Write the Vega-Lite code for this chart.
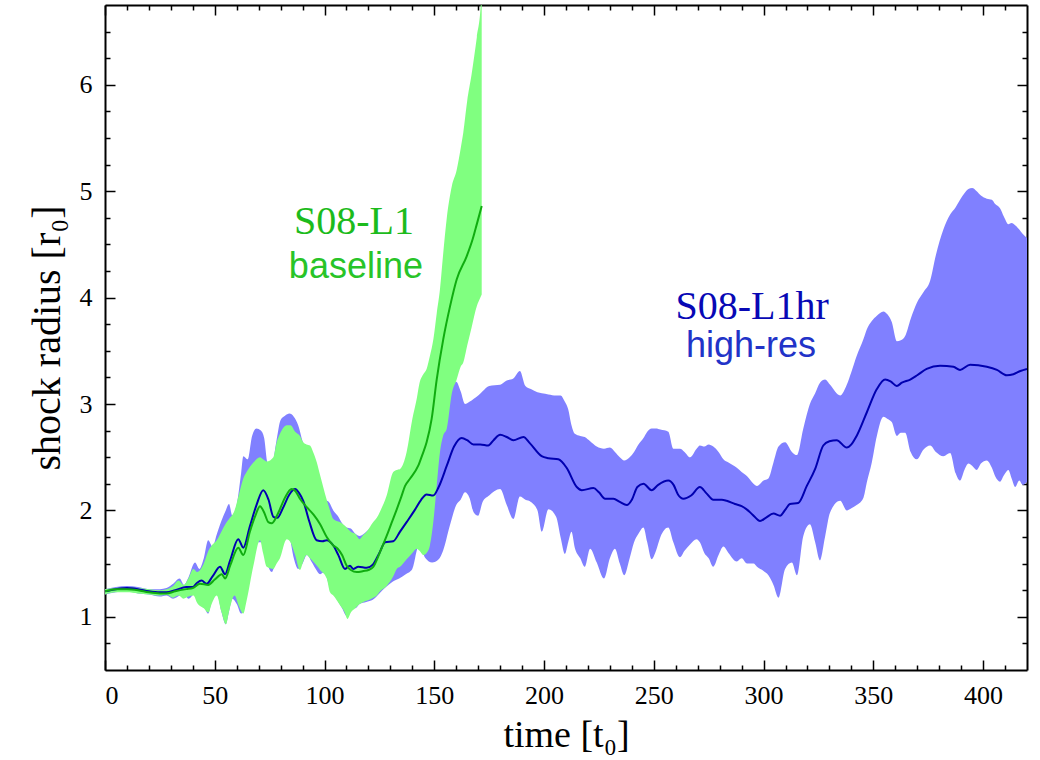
{
  "$schema": "https://vega.github.io/schema/vega-lite/v6.json",
  "width": 922,
  "height": 665,
  "autosize": "none",
  "padding": {"left": 105, "top": 5, "right": 13, "bottom": 90},
  "background": "white",
  "config": {
    "view": {"stroke": null},
    "axis": {
      "labelFont": "Liberation Serif",
      "titleFont": "Liberation Serif",
      "labelColor": "black",
      "titleColor": "black",
      "titleFontWeight": "normal",
      "tickColor": "black",
      "tickWidth": 1.5,
      "domainColor": "black",
      "domainWidth": 2,
      "grid": false,
      "zindex": 1
    }
  },
  "datasets": {
    "blueBand": [
      {"t":0,"lo":1.21,"hi":1.26},{"t":5,"lo":1.23,"hi":1.28},{"t":10,"lo":1.24,"hi":1.29},{"t":15,"lo":1.22,"hi":1.28},{"t":20,"lo":1.21,"hi":1.26},{"t":25,"lo":1.19,"hi":1.26},{"t":28,"lo":1.2,"hi":1.27},{"t":31,"lo":1.17,"hi":1.31},{"t":34,"lo":1.2,"hi":1.36},{"t":36,"lo":1.22,"hi":1.3},{"t":38,"lo":1.17,"hi":1.37},{"t":41,"lo":1.22,"hi":1.51},{"t":43,"lo":1.16,"hi":1.45},{"t":45,"lo":1.1,"hi":1.55},{"t":47,"lo":1.03,"hi":1.72},{"t":49,"lo":1.18,"hi":1.66},{"t":51,"lo":1.22,"hi":1.78},{"t":53,"lo":1.05,"hi":1.9},{"t":55,"lo":0.93,"hi":2.0},{"t":56.5,"lo":1.05,"hi":2.06},{"t":58,"lo":1.17,"hi":1.95},{"t":60,"lo":1.12,"hi":2.05},{"t":62,"lo":1.03,"hi":2.35},{"t":63,"lo":1.05,"hi":2.51},{"t":65,"lo":1.3,"hi":2.48},{"t":67,"lo":1.48,"hi":2.7},{"t":69,"lo":1.7,"hi":2.77},{"t":71,"lo":1.7,"hi":2.75},{"t":72.5,"lo":1.65,"hi":2.68},{"t":74,"lo":1.5,"hi":2.45},{"t":76,"lo":1.42,"hi":2.42},{"t":78,"lo":1.55,"hi":2.64},{"t":80,"lo":1.7,"hi":2.85},{"t":82,"lo":1.8,"hi":2.89},{"t":84,"lo":1.75,"hi":2.91},{"t":86,"lo":1.55,"hi":2.88},{"t":88,"lo":1.45,"hi":2.8},{"t":90,"lo":1.5,"hi":2.65},{"t":92,"lo":1.58,"hi":2.55},{"t":94,"lo":1.52,"hi":2.4},{"t":96,"lo":1.45,"hi":2.25},{"t":98,"lo":1.4,"hi":2.15},{"t":100,"lo":1.42,"hi":2.1},{"t":102,"lo":1.3,"hi":2.08},{"t":104,"lo":1.22,"hi":2.0},{"t":106,"lo":1.15,"hi":1.95},{"t":108,"lo":1.08,"hi":1.88},{"t":110,"lo":1.01,"hi":1.84},{"t":112,"lo":1.1,"hi":1.83},{"t":114,"lo":1.08,"hi":1.78},{"t":116,"lo":1.12,"hi":1.76},{"t":119,"lo":1.14,"hi":1.8},{"t":122,"lo":1.16,"hi":1.86},{"t":125,"lo":1.22,"hi":1.95},{"t":128,"lo":1.28,"hi":2.05},{"t":131,"lo":1.33,"hi":2.15},{"t":134,"lo":1.36,"hi":2.25},{"t":137,"lo":1.4,"hi":2.3},{"t":140,"lo":1.45,"hi":2.32},{"t":143,"lo":1.67,"hi":2.45},{"t":146,"lo":1.55,"hi":2.55},{"t":149,"lo":1.51,"hi":2.7},{"t":152,"lo":1.54,"hi":2.9},{"t":154,"lo":1.62,"hi":3.0},{"t":157,"lo":1.85,"hi":3.11},{"t":160,"lo":2.05,"hi":3.21},{"t":162,"lo":2.1,"hi":3.12},{"t":164,"lo":2.17,"hi":3.0},{"t":166,"lo":2.12,"hi":3.02},{"t":168,"lo":1.98,"hi":3.05},{"t":170,"lo":1.95,"hi":3.08},{"t":172,"lo":2.08,"hi":3.12},{"t":175,"lo":2.14,"hi":3.17},{"t":180,"lo":2.2,"hi":3.18},{"t":183,"lo":2.05,"hi":3.22},{"t":186,"lo":1.92,"hi":3.24},{"t":189,"lo":2.13,"hi":3.31},{"t":191.5,"lo":2.1,"hi":3.17},{"t":194,"lo":2.08,"hi":3.14},{"t":197,"lo":2.0,"hi":3.11},{"t":199,"lo":1.8,"hi":3.1},{"t":202,"lo":2.01,"hi":3.09},{"t":205.5,"lo":1.94,"hi":3.08},{"t":207.5,"lo":1.75,"hi":3.08},{"t":209.5,"lo":1.59,"hi":3.02},{"t":211,"lo":1.7,"hi":2.95},{"t":212.5,"lo":1.8,"hi":2.8},{"t":214,"lo":1.65,"hi":2.72},{"t":216.5,"lo":1.55,"hi":2.7},{"t":218.5,"lo":1.47,"hi":2.69},{"t":221,"lo":1.64,"hi":2.65},{"t":224,"lo":1.51,"hi":2.6},{"t":227.3,"lo":1.36,"hi":2.58},{"t":230,"lo":1.55,"hi":2.59},{"t":232.3,"lo":1.64,"hi":2.55},{"t":234.5,"lo":1.5,"hi":2.5},{"t":236.5,"lo":1.39,"hi":2.47},{"t":239,"lo":1.55,"hi":2.5},{"t":241,"lo":1.7,"hi":2.55},{"t":243,"lo":1.78,"hi":2.62},{"t":245.3,"lo":1.84,"hi":2.68},{"t":247,"lo":1.7,"hi":2.74},{"t":249,"lo":1.54,"hi":2.77},{"t":251,"lo":1.62,"hi":2.77},{"t":253,"lo":1.75,"hi":2.76},{"t":256.6,"lo":1.84,"hi":2.74},{"t":258.9,"lo":1.7,"hi":2.58},{"t":261.9,"lo":1.56,"hi":2.58},{"t":264,"lo":1.62,"hi":2.55},{"t":266.5,"lo":1.68,"hi":2.5},{"t":269.5,"lo":1.73,"hi":2.58},{"t":271,"lo":1.7,"hi":2.61},{"t":273,"lo":1.6,"hi":2.6},{"t":275,"lo":1.55,"hi":2.62},{"t":277.1,"lo":1.47,"hi":2.6},{"t":279.5,"lo":1.58,"hi":2.55},{"t":281.7,"lo":1.66,"hi":2.48},{"t":284,"lo":1.6,"hi":2.45},{"t":287.8,"lo":1.52,"hi":2.4},{"t":290,"lo":1.55,"hi":2.36},{"t":292.5,"lo":1.5,"hi":2.32},{"t":295.4,"lo":1.5,"hi":2.25},{"t":297,"lo":1.47,"hi":2.23},{"t":300,"lo":1.43,"hi":2.28},{"t":302.2,"lo":1.39,"hi":2.3},{"t":304.5,"lo":1.3,"hi":2.45},{"t":306.8,"lo":1.18,"hi":2.6},{"t":309.8,"lo":1.45,"hi":2.64},{"t":312.9,"lo":1.51,"hi":2.55},{"t":315.2,"lo":1.39,"hi":2.52},{"t":318.1,"lo":1.76,"hi":2.77},{"t":321.1,"lo":1.87,"hi":3.0},{"t":323.5,"lo":1.7,"hi":3.1},{"t":325.7,"lo":1.53,"hi":3.2},{"t":328,"lo":1.75,"hi":3.23},{"t":330.3,"lo":1.98,"hi":3.18},{"t":334.9,"lo":2.09,"hi":3.08},{"t":337.9,"lo":2.0,"hi":3.18},{"t":340,"lo":2.02,"hi":3.3},{"t":342.4,"lo":2.05,"hi":3.45},{"t":345.5,"lo":2.12,"hi":3.61},{"t":347,"lo":2.26,"hi":3.7},{"t":349.3,"lo":2.45,"hi":3.78},{"t":351.6,"lo":2.7,"hi":3.83},{"t":354.6,"lo":2.88,"hi":3.87},{"t":356.5,"lo":2.86,"hi":3.84},{"t":358.4,"lo":2.83,"hi":3.77},{"t":360.7,"lo":2.7,"hi":3.59},{"t":362.5,"lo":2.73,"hi":3.6},{"t":364.5,"lo":2.73,"hi":3.64},{"t":367,"lo":2.55,"hi":3.8},{"t":369.8,"lo":2.48,"hi":3.95},{"t":372.8,"lo":2.57,"hi":4.05},{"t":375.9,"lo":2.61,"hi":4.16},{"t":378.5,"lo":2.55,"hi":4.4},{"t":381.9,"lo":2.51,"hi":4.64},{"t":385,"lo":2.54,"hi":4.78},{"t":387.5,"lo":2.35,"hi":4.85},{"t":389.5,"lo":2.28,"hi":4.92},{"t":391.5,"lo":2.38,"hi":4.98},{"t":393.3,"lo":2.44,"hi":5.02},{"t":395,"lo":2.42,"hi":5.03},{"t":397.1,"lo":2.38,"hi":5.0},{"t":399,"lo":2.44,"hi":4.96},{"t":401.7,"lo":2.47,"hi":4.93},{"t":404,"lo":2.4,"hi":4.92},{"t":405.5,"lo":2.32,"hi":4.88},{"t":407.7,"lo":2.27,"hi":4.84},{"t":409.5,"lo":2.33,"hi":4.76},{"t":411.5,"lo":2.38,"hi":4.69},{"t":413,"lo":2.3,"hi":4.7},{"t":414.6,"lo":2.22,"hi":4.68},{"t":416.5,"lo":2.28,"hi":4.64},{"t":418,"lo":2.24,"hi":4.6},{"t":420,"lo":2.27,"hi":4.56}
    ],
    "greenBand": [
      {"t":0,"lo":1.21,"hi":1.26},{"t":5,"lo":1.23,"hi":1.27},{"t":10,"lo":1.23,"hi":1.28},{"t":15,"lo":1.22,"hi":1.27},{"t":20,"lo":1.21,"hi":1.26},{"t":25,"lo":1.2,"hi":1.25},{"t":28,"lo":1.21,"hi":1.26},{"t":31,"lo":1.18,"hi":1.29},{"t":33.5,"lo":1.2,"hi":1.34},{"t":35.8,"lo":1.17,"hi":1.3},{"t":38,"lo":1.19,"hi":1.36},{"t":40.3,"lo":1.2,"hi":1.45},{"t":42,"lo":1.13,"hi":1.42},{"t":45,"lo":1.08,"hi":1.5},{"t":47.1,"lo":1.04,"hi":1.62},{"t":48.6,"lo":1.12,"hi":1.67},{"t":50.9,"lo":1.2,"hi":1.72},{"t":53,"lo":1.05,"hi":1.8},{"t":55.1,"lo":0.93,"hi":1.88},{"t":56.5,"lo":1.05,"hi":1.92},{"t":59,"lo":1.2,"hi":2.0},{"t":61,"lo":1.1,"hi":2.15},{"t":63,"lo":1.03,"hi":2.3},{"t":64.5,"lo":1.15,"hi":2.36},{"t":67.6,"lo":1.48,"hi":2.45},{"t":70.6,"lo":1.72,"hi":2.5},{"t":72,"lo":1.6,"hi":2.48},{"t":73.7,"lo":1.47,"hi":2.46},{"t":76.7,"lo":1.45,"hi":2.5},{"t":78.2,"lo":1.5,"hi":2.64},{"t":79.7,"lo":1.55,"hi":2.72},{"t":82.8,"lo":1.73,"hi":2.8},{"t":84.5,"lo":1.7,"hi":2.8},{"t":86.6,"lo":1.58,"hi":2.74},{"t":88.8,"lo":1.44,"hi":2.7},{"t":90.3,"lo":1.52,"hi":2.64},{"t":91.8,"lo":1.58,"hi":2.62},{"t":93.4,"lo":1.55,"hi":2.61},{"t":94.8,"lo":1.52,"hi":2.55},{"t":96.5,"lo":1.48,"hi":2.45},{"t":98,"lo":1.44,"hi":2.33},{"t":101,"lo":1.36,"hi":2.1},{"t":102.5,"lo":1.23,"hi":2.0},{"t":104,"lo":1.2,"hi":1.92},{"t":107,"lo":1.11,"hi":1.89},{"t":109,"lo":1.05,"hi":1.86},{"t":110.5,"lo":0.98,"hi":1.83},{"t":112,"lo":1.04,"hi":1.8},{"t":114,"lo":1.08,"hi":1.78},{"t":116,"lo":1.12,"hi":1.73},{"t":117.7,"lo":1.14,"hi":1.77},{"t":119.2,"lo":1.15,"hi":1.8},{"t":122.2,"lo":1.18,"hi":1.89},{"t":123.8,"lo":1.2,"hi":1.93},{"t":125.3,"lo":1.24,"hi":1.99},{"t":128.3,"lo":1.29,"hi":2.14},{"t":131.3,"lo":1.38,"hi":2.36},{"t":132.9,"lo":1.45,"hi":2.38},{"t":134.4,"lo":1.47,"hi":2.39},{"t":137.4,"lo":1.54,"hi":2.55},{"t":140,"lo":1.6,"hi":2.86},{"t":142,"lo":1.64,"hi":3.05},{"t":143.3,"lo":1.62,"hi":3.2},{"t":145,"lo":1.58,"hi":3.28},{"t":146.5,"lo":1.6,"hi":3.33},{"t":148,"lo":1.67,"hi":3.45},{"t":149.6,"lo":1.9,"hi":3.61},{"t":151.1,"lo":2.23,"hi":3.85},{"t":152.6,"lo":2.55,"hi":4.08},{"t":154,"lo":2.7,"hi":4.4},{"t":155.7,"lo":2.77,"hi":4.75},{"t":158,"lo":3.1,"hi":5.05},{"t":160.2,"lo":3.23,"hi":5.2},{"t":162,"lo":3.35,"hi":5.4},{"t":163.2,"lo":3.39,"hi":5.55},{"t":165,"lo":3.55,"hi":5.85},{"t":167,"lo":3.72,"hi":6.1},{"t":169.4,"lo":3.92,"hi":6.45},{"t":171,"lo":4.0,"hi":6.7},{"t":171.6,"lo":4.03,"hi":6.9}
    ],
    "blueLine": [
      {"t":0,"r":1.24},{"t":5,"r":1.26},{"t":10,"r":1.27},{"t":15,"r":1.26},{"t":20,"r":1.24},{"t":25,"r":1.23},{"t":28,"r":1.23},{"t":32,"r":1.25},{"t":37,"r":1.28},{"t":40,"r":1.28},{"t":42,"r":1.32},{"t":44,"r":1.34},{"t":46.3,"r":1.31},{"t":49,"r":1.38},{"t":52.4,"r":1.47},{"t":54.7,"r":1.4},{"t":57,"r":1.53},{"t":60.7,"r":1.73},{"t":63,"r":1.65},{"t":66,"r":1.85},{"t":69,"r":2.05},{"t":72.1,"r":2.19},{"t":74.5,"r":2.1},{"t":76.7,"r":1.94},{"t":78.5,"r":1.93},{"t":81,"r":2.02},{"t":84,"r":2.15},{"t":86.6,"r":2.2},{"t":88.5,"r":2.16},{"t":90.3,"r":2.09},{"t":93,"r":1.9},{"t":96.4,"r":1.72},{"t":99,"r":1.71},{"t":101,"r":1.72},{"t":104,"r":1.67},{"t":106.3,"r":1.58},{"t":109.3,"r":1.45},{"t":111.6,"r":1.48},{"t":113,"r":1.45},{"t":115.4,"r":1.47},{"t":119.2,"r":1.46},{"t":122,"r":1.49},{"t":125,"r":1.6},{"t":127.6,"r":1.7},{"t":131.3,"r":1.71},{"t":134.4,"r":1.8},{"t":137.4,"r":1.89},{"t":141,"r":2.0},{"t":144,"r":2.1},{"t":146.5,"r":2.15},{"t":149.5,"r":2.14},{"t":152,"r":2.22},{"t":155.7,"r":2.42},{"t":159,"r":2.6},{"t":162.5,"r":2.68},{"t":165,"r":2.66},{"t":167.8,"r":2.62},{"t":171,"r":2.62},{"t":174.6,"r":2.61},{"t":177,"r":2.66},{"t":180,"r":2.71},{"t":183,"r":2.69},{"t":186,"r":2.66},{"t":190.6,"r":2.69},{"t":193.6,"r":2.63},{"t":198.9,"r":2.51},{"t":202,"r":2.49},{"t":206.5,"r":2.48},{"t":210.3,"r":2.4},{"t":214.9,"r":2.22},{"t":217.2,"r":2.19},{"t":222.5,"r":2.21},{"t":225,"r":2.17},{"t":227.8,"r":2.11},{"t":231.6,"r":2.11},{"t":234.5,"r":2.08},{"t":237.7,"r":2.05},{"t":240,"r":2.1},{"t":242.5,"r":2.22},{"t":245.3,"r":2.25},{"t":249,"r":2.19},{"t":252,"r":2.24},{"t":256.6,"r":2.28},{"t":259,"r":2.24},{"t":261,"r":2.15},{"t":263.5,"r":2.11},{"t":267,"r":2.14},{"t":271,"r":2.22},{"t":274,"r":2.16},{"t":277.1,"r":2.1},{"t":281,"r":2.1},{"t":283.2,"r":2.09},{"t":287,"r":2.06},{"t":290,"r":2.04},{"t":292.3,"r":2.01},{"t":295,"r":1.96},{"t":298.4,"r":1.9},{"t":301,"r":1.93},{"t":304.5,"r":1.97},{"t":307.5,"r":1.95},{"t":310,"r":2.01},{"t":312,"r":2.06},{"t":315.8,"r":2.07},{"t":319.7,"r":2.23},{"t":323.5,"r":2.39},{"t":327.2,"r":2.61},{"t":330,"r":2.65},{"t":333.3,"r":2.66},{"t":337.9,"r":2.59},{"t":340,"r":2.62},{"t":342.4,"r":2.7},{"t":347,"r":2.92},{"t":351.6,"r":3.14},{"t":355.4,"r":3.23},{"t":358,"r":3.21},{"t":360.7,"r":3.17},{"t":363,"r":3.2},{"t":366.8,"r":3.23},{"t":370,"r":3.27},{"t":374.3,"r":3.33},{"t":380.4,"r":3.36},{"t":386.5,"r":3.35},{"t":389.5,"r":3.32},{"t":394.1,"r":3.37},{"t":401.7,"r":3.35},{"t":406.3,"r":3.32},{"t":410.8,"r":3.27},{"t":413.8,"r":3.28},{"t":417,"r":3.31},{"t":420,"r":3.33}
    ],
    "greenLine": [
      {"t":0,"r":1.24},{"t":5,"r":1.26},{"t":10,"r":1.26},{"t":15,"r":1.25},{"t":20,"r":1.23},{"t":25,"r":1.22},{"t":28,"r":1.22},{"t":32,"r":1.24},{"t":37,"r":1.26},{"t":40,"r":1.27},{"t":43.3,"r":1.31},{"t":47,"r":1.3},{"t":50,"r":1.35},{"t":53.2,"r":1.4},{"t":54.7,"r":1.36},{"t":57,"r":1.48},{"t":60.7,"r":1.65},{"t":63,"r":1.58},{"t":66,"r":1.8},{"t":68.5,"r":1.95},{"t":70.6,"r":2.04},{"t":72.5,"r":1.98},{"t":74.4,"r":1.89},{"t":76,"r":1.88},{"t":79,"r":1.98},{"t":82,"r":2.12},{"t":85,"r":2.2},{"t":86.8,"r":2.18},{"t":88.8,"r":2.11},{"t":91.9,"r":2.03},{"t":95,"r":1.96},{"t":98,"r":1.87},{"t":101,"r":1.75},{"t":104,"r":1.67},{"t":106,"r":1.64},{"t":108,"r":1.58},{"t":110.1,"r":1.48},{"t":112,"r":1.44},{"t":114.7,"r":1.42},{"t":117.7,"r":1.43},{"t":120,"r":1.44},{"t":122.2,"r":1.47},{"t":125.3,"r":1.61},{"t":128.3,"r":1.76},{"t":130.5,"r":1.88},{"t":132.9,"r":2.01},{"t":135,"r":2.13},{"t":136.7,"r":2.23},{"t":139,"r":2.3},{"t":142.7,"r":2.42},{"t":144.5,"r":2.52},{"t":146.5,"r":2.64},{"t":148.8,"r":2.86},{"t":151.1,"r":3.23},{"t":154.1,"r":3.61},{"t":157.2,"r":3.92},{"t":160.2,"r":4.17},{"t":164.8,"r":4.39},{"t":167.5,"r":4.55},{"t":169.5,"r":4.7},{"t":171.6,"r":4.86}
    ]
  },
  "resolve": {"axis": {"x": "independent", "y": "independent"}},
  "layer": [
    {
      "data": {"name": "blueBand"},
      "mark": {"type": "area", "color": "#8080ff", "clip": true, "interpolate": "monotone"},
      "encoding": {
        "x": {"field": "t", "type": "quantitative",
              "scale": {"domain": [0, 420], "nice": false, "zero": false},
              "axis": {"orient": "bottom", "values": [0,50,100,150,200,250,300,350,400], "tickSize": -10, "labelPadding": 22, "labelFontSize": 26, "domain": true, "title": "time [t₀]", "titleFontSize": 38, "titlePadding": 8}},
        "y": {"field": "lo", "type": "quantitative",
              "scale": {"domain": [0.5, 6.75], "nice": false, "zero": false},
              "axis": {"orient": "left", "values": [1,2,3,4,5,6], "tickSize": -10, "labelPadding": 23, "labelFontSize": 26, "domain": true, "title": "shock radius [r₀]", "titleFontSize": 40, "titlePadding": 12}},
        "y2": {"field": "hi"}
      }
    },
    {
      "data": {"name": "greenBand"},
      "mark": {"type": "area", "color": "#80ff80", "clip": true, "interpolate": "monotone"},
      "encoding": {
        "x": {"field": "t", "type": "quantitative",
              "axis": {"orient": "bottom", "values": [10,20,30,40,60,70,80,90,110,120,130,140,160,170,180,190,210,220,230,240,260,270,280,290,310,320,330,340,360,370,380,390,410], "tickSize": -5, "labels": false, "domain": false, "title": null}},
        "y": {"field": "lo", "type": "quantitative",
              "axis": {"orient": "left", "values": [0.75,1.25,1.5,1.75,2.25,2.5,2.75,3.25,3.5,3.75,4.25,4.5,4.75,5.25,5.5,5.75,6.25,6.5], "tickSize": -5, "labels": false, "domain": false, "title": null}},
        "y2": {"field": "hi"}
      }
    },
    {
      "data": {"name": "blueLine"},
      "mark": {"type": "line", "color": "#0000b0", "strokeWidth": 2, "clip": true, "interpolate": "monotone"},
      "encoding": {
        "x": {"field": "t", "type": "quantitative",
              "axis": {"orient": "top", "values": [0,50,100,150,200,250,300,350,400], "tickSize": -10, "labels": false, "domain": true, "title": null}},
        "y": {"field": "r", "type": "quantitative",
              "axis": {"orient": "right", "values": [1,2,3,4,5,6], "tickSize": -10, "labels": false, "domain": true, "title": null}}
      }
    },
    {
      "data": {"name": "greenLine"},
      "mark": {"type": "line", "color": "#10ac10", "strokeWidth": 2, "clip": true, "interpolate": "monotone"},
      "encoding": {
        "x": {"field": "t", "type": "quantitative",
              "axis": {"orient": "top", "values": [10,20,30,40,60,70,80,90,110,120,130,140,160,170,180,190,210,220,230,240,260,270,280,290,310,320,330,340,360,370,380,390,410], "tickSize": -5, "labels": false, "domain": false, "title": null}},
        "y": {"field": "r", "type": "quantitative",
              "axis": {"orient": "right", "values": [0.75,1.25,1.5,1.75,2.25,2.5,2.75,3.25,3.5,3.75,4.25,4.5,4.75,5.25,5.5,5.75,6.25,6.5], "tickSize": -5, "labels": false, "domain": false, "title": null}}
      }
    },
    {
      "data": {"values": [{}]},
      "mark": {"type": "text", "text": "S08-L1", "font": "Liberation Serif", "fontSize": 40, "color": "#1cbb1c", "align": "center", "baseline": "alphabetic"},
      "encoding": {"x": {"datum": 113.4, "type": "quantitative", "axis": null}, "y": {"datum": 4.6, "type": "quantitative", "axis": null}}
    },
    {
      "data": {"values": [{}]},
      "mark": {"type": "text", "text": "baseline", "font": "Liberation Sans", "fontSize": 36, "color": "#28c428", "align": "center", "baseline": "alphabetic"},
      "encoding": {"x": {"datum": 114.3, "type": "quantitative", "axis": null}, "y": {"datum": 4.18, "type": "quantitative", "axis": null}}
    },
    {
      "data": {"values": [{}]},
      "mark": {"type": "text", "text": "S08-L1hr", "font": "Liberation Serif", "fontSize": 40, "color": "#0808b5", "align": "center", "baseline": "alphabetic"},
      "encoding": {"x": {"datum": 294.8, "type": "quantitative", "axis": null}, "y": {"datum": 3.8, "type": "quantitative", "axis": null}}
    },
    {
      "data": {"values": [{}]},
      "mark": {"type": "text", "text": "high-res", "font": "Liberation Sans", "fontSize": 36, "color": "#2233c8", "align": "center", "baseline": "alphabetic"},
      "encoding": {"x": {"datum": 294.3, "type": "quantitative", "axis": null}, "y": {"datum": 3.44, "type": "quantitative", "axis": null}}
    }
  ]
}
